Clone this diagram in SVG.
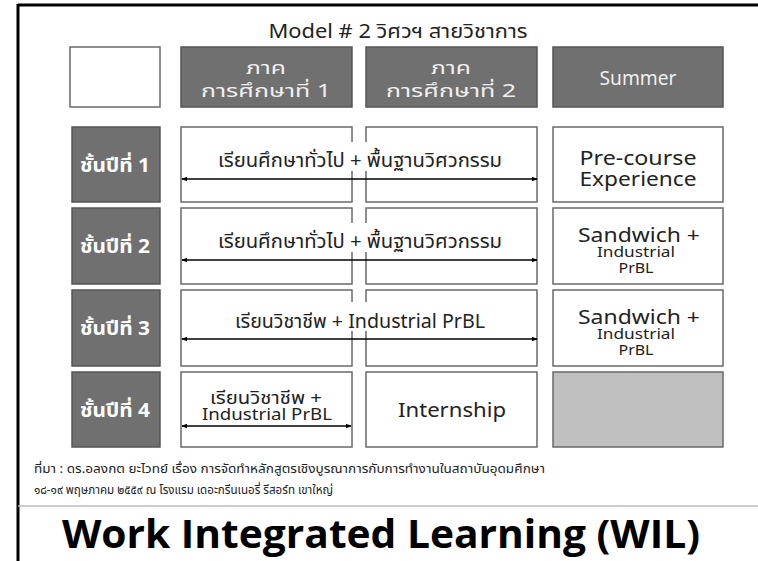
<svg xmlns="http://www.w3.org/2000/svg" width="758" height="561" viewBox="0 0 758 561">
<style>
.th{font-family:"Noto Sans Thai","Noto Sans","DejaVu Sans",sans-serif;}
.dk{fill:#707070;stroke:#555;stroke-width:1.5;}
.wh{fill:#fff;stroke:#6a6a6a;stroke-width:1.5;}
.lg{fill:#c0c0c0;stroke:#6a6a6a;stroke-width:1.5;}
.ht{fill:#efefef;font-size:18px;text-anchor:middle;}
.rl{fill:#fff;font-size:19px;font-weight:bold;text-anchor:middle;}
.bt{fill:#222;text-anchor:middle;}
.arr{stroke:#000;stroke-width:1.6;fill:none;marker-start:url(#ah);marker-end:url(#ah);}
</style>
<defs>
<marker id="ah" viewBox="0 0 10 10" refX="9" refY="5" markerWidth="6" markerHeight="6" orient="auto-start-reverse" markerUnits="userSpaceOnUse">
<path d="M0,1 L10,5 L0,9 z" fill="#000"/>
</marker>
</defs>
<rect x="0" y="0" width="758" height="561" fill="#fff"/>
<g id="frame">
<line x1="18" y1="5" x2="758" y2="5" stroke="#000" stroke-width="3"/>
<line x1="18" y1="4" x2="18" y2="561" stroke="#000" stroke-width="3"/>
<line x1="18" y1="506" x2="758" y2="506" stroke="#bbb" stroke-width="1.5"/>
</g>
<text class="th" x="398" y="38" font-size="19" fill="#222" text-anchor="middle" textLength="259" lengthAdjust="spacingAndGlyphs">Model # 2 วิศวฯ สายวิชาการ</text>
<g id="corner"><rect class="wh" x="70" y="47" width="90" height="60"/></g>
<g id="h1"><rect class="dk" x="181" y="47" width="171" height="60"/>
<text class="th ht" x="266" y="74" textLength="40" lengthAdjust="spacingAndGlyphs">ภาค</text><text class="th ht" x="266" y="97" textLength="130" lengthAdjust="spacingAndGlyphs">การศึกษาที่ 1</text></g>
<g id="h2"><rect class="dk" x="366" y="47" width="171" height="60"/>
<text class="th ht" x="451" y="74" textLength="40" lengthAdjust="spacingAndGlyphs">ภาค</text><text class="th ht" x="451" y="97" textLength="130" lengthAdjust="spacingAndGlyphs">การศึกษาที่ 2</text></g>
<g id="h3"><rect class="dk" x="553" y="47" width="170" height="60"/>
<text class="th" x="638" y="85" font-size="20" fill="#efefef" text-anchor="middle" textLength="77" lengthAdjust="spacingAndGlyphs">Summer</text></g>

<g id="r1"><rect class="dk" x="72" y="127" width="88" height="75"/><text class="th rl" x="115" y="172" textLength="70" lengthAdjust="spacingAndGlyphs">ชั้นปีที่ 1</text></g>
<g id="r2"><rect class="dk" x="72" y="208" width="88" height="76"/><text class="th rl" x="115" y="253" textLength="70" lengthAdjust="spacingAndGlyphs">ชั้นปีที่ 2</text></g>
<g id="r3"><rect class="dk" x="72" y="290" width="88" height="76"/><text class="th rl" x="115" y="335" textLength="70" lengthAdjust="spacingAndGlyphs">ชั้นปีที่ 3</text></g>
<g id="r4"><rect class="dk" x="72" y="372" width="88" height="75"/><text class="th rl" x="115" y="417" textLength="70" lengthAdjust="spacingAndGlyphs">ชั้นปีที่ 4</text></g>

<g id="c1r1"><rect class="wh" x="181" y="127" width="171" height="75"/></g>
<g id="c2r1"><rect class="wh" x="366" y="127" width="171" height="75"/></g>
<g id="c3r1"><rect class="wh" x="553" y="127" width="170" height="75"/>
<text class="th bt" x="638" y="165" font-size="20" textLength="117" lengthAdjust="spacingAndGlyphs">Pre-course</text><text class="th bt" x="638" y="186" font-size="20" textLength="117" lengthAdjust="spacingAndGlyphs">Experience</text></g>
<g id="c1r2"><rect class="wh" x="181" y="208" width="171" height="76"/></g>
<g id="c2r2"><rect class="wh" x="366" y="208" width="171" height="76"/></g>
<g id="c3r2"><rect class="wh" x="553" y="208" width="170" height="76"/>
<text class="th bt" x="639" y="242" font-size="20" textLength="122" lengthAdjust="spacingAndGlyphs">Sandwich +</text><text class="th bt" x="636" y="257" font-size="15" textLength="78" lengthAdjust="spacingAndGlyphs">Industrial</text><text class="th bt" x="636" y="273" font-size="15" textLength="35" lengthAdjust="spacingAndGlyphs">PrBL</text></g>
<g id="c1r3"><rect class="wh" x="181" y="290" width="171" height="76"/></g>
<g id="c2r3"><rect class="wh" x="366" y="290" width="171" height="76"/></g>
<g id="c3r3"><rect class="wh" x="553" y="290" width="170" height="76"/>
<text class="th bt" x="639" y="324" font-size="20" textLength="122" lengthAdjust="spacingAndGlyphs">Sandwich +</text><text class="th bt" x="636" y="339" font-size="15" textLength="78" lengthAdjust="spacingAndGlyphs">Industrial</text><text class="th bt" x="636" y="355" font-size="15" textLength="35" lengthAdjust="spacingAndGlyphs">PrBL</text></g>
<g id="c1r4"><rect class="wh" x="181" y="372" width="171" height="75"/>
<text class="th bt" x="266" y="404" font-size="17" textLength="112" lengthAdjust="spacingAndGlyphs">เรียนวิชาชีพ +</text><text class="th bt" x="267" y="420" font-size="17" textLength="130" lengthAdjust="spacingAndGlyphs">Industrial PrBL</text></g>
<g id="c2r4"><rect class="wh" x="366" y="372" width="171" height="75"/>
<text class="th bt" x="452" y="417" font-size="20" textLength="108" lengthAdjust="spacingAndGlyphs">Internship</text></g>
<g id="c3r4"><rect class="lg" x="553" y="372" width="170" height="75"/></g>

<g id="spans">
<rect x="340" y="142" width="40" height="29" fill="#fff"/>
<text class="th bt" x="360" y="167" font-size="19" textLength="284" lengthAdjust="spacingAndGlyphs">เรียนศึกษาทั่วไป + พื้นฐานวิศวกรรม</text>
<rect x="340" y="223" width="40" height="29" fill="#fff"/>
<text class="th bt" x="360" y="248" font-size="19" textLength="284" lengthAdjust="spacingAndGlyphs">เรียนศึกษาทั่วไป + พื้นฐานวิศวกรรม</text>
<rect x="340" y="302" width="40" height="29" fill="#fff"/>
<text class="th bt" x="360" y="328" font-size="19" textLength="250" lengthAdjust="spacingAndGlyphs">เรียนวิชาชีพ + Industrial PrBL</text>
</g>
<g id="connectors">
<line class="arr" x1="182" y1="179" x2="537" y2="179"/>
<line class="arr" x1="182" y1="260" x2="537" y2="260"/>
<line class="arr" x1="182" y1="339" x2="537" y2="339"/>
<line class="arr" x1="182" y1="426" x2="351" y2="426"/>
</g>
<text class="th" x="34" y="473" font-size="12" fill="#222" textLength="511" lengthAdjust="spacingAndGlyphs">ที่มา : ดร.อลงกต ยะไวทย์ เรื่อง การจัดทำหลักสูตรเชิงบูรณาการกับการทำงานในสถาบันอุดมศึกษา</text>
<text class="th" x="34" y="494" font-size="12" fill="#222" textLength="299" lengthAdjust="spacingAndGlyphs">๑๘-๑๙ พฤษภาคม ๒๕๕๙ ณ โรงแรม เดอะกรีนเนอรี่ รีสอร์ท เขาใหญ่</text>
<text x="381" y="548" font-family="'Open Sans','Noto Sans',sans-serif" font-weight="bold" font-size="40" fill="#000" text-anchor="middle" textLength="638" lengthAdjust="spacingAndGlyphs">Work Integrated Learning (WIL)</text>
</svg>
